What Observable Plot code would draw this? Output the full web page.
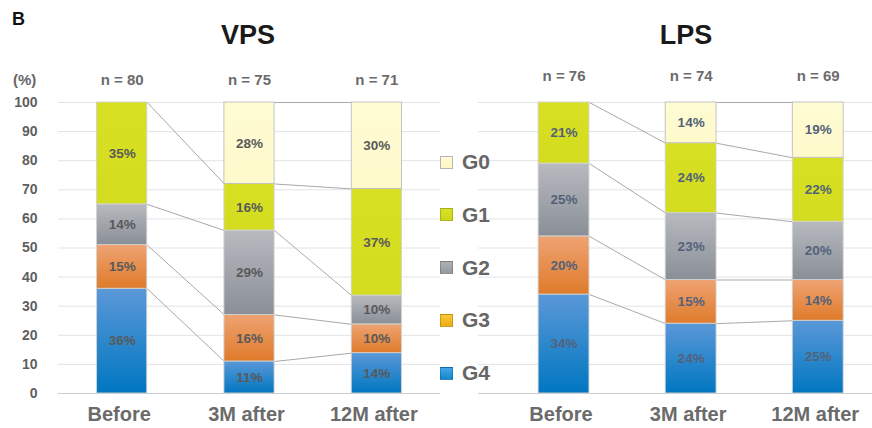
<!DOCTYPE html>
<html><head><meta charset="utf-8">
<script src="https://cdn.jsdelivr.net/npm/d3@7"></script>
<script src="https://cdn.jsdelivr.net/npm/@observablehq/plot@0.6"></script>
<style>
body{margin:0;background:#fff;font-family:"Liberation Sans",Arial,sans-serif;}
#wrap{position:relative;width:872px;height:428px;overflow:hidden;background:#fff;}
.t{position:absolute;white-space:nowrap;line-height:1;font-weight:bold;}
.leg{position:absolute;left:440px;display:flex;align-items:center;transform:translateY(-50%);}
.sw{width:13px;height:13px;box-sizing:border-box;border:1px solid rgba(0,0,0,0.18);margin-right:9px;}
.lt{font-size:21px;font-weight:bold;color:#666;line-height:normal;}
</style></head><body>
<svg width="0" height="0" style="position:absolute">
  <defs>
    <linearGradient id="gG4" x1="0" y1="0" x2="0" y2="1"><stop offset="0" stop-color="#5b98d8"/><stop offset="1" stop-color="#0077c1"/></linearGradient>
    <linearGradient id="gG3" x1="0" y1="0" x2="0" y2="1"><stop offset="0" stop-color="#eea373"/><stop offset="1" stop-color="#df7b2b"/></linearGradient>
    <linearGradient id="gG2" x1="0" y1="0" x2="0" y2="1"><stop offset="0" stop-color="#b7babf"/><stop offset="1" stop-color="#8a8f97"/></linearGradient>
    <linearGradient id="gG1" x1="0" y1="0" x2="0" y2="1"><stop offset="0" stop-color="#d7e022"/><stop offset="1" stop-color="#d3dc1f"/></linearGradient>
    <linearGradient id="gG0" x1="0" y1="0" x2="0" y2="1"><stop offset="0" stop-color="#fffbd3"/><stop offset="1" stop-color="#fffacb"/></linearGradient>
  </defs>
</svg>
<div id="wrap"></div>
<script>
// ---- data ----
const categories = ["Before", "3M after", "12M after"];
const grades = ["G4", "G3", "G2", "G1", "G0"]; // stack order, bottom to top
const legendGrades = ["G0", "G1", "G2", "G3", "G4"];
const yTicks = [0, 10, 20, 30, 40, 50, 60, 70, 80, 90, 100];

const vpsN = [80, 75, 71];
const vpsG4 = [36, 11, 14];
const vpsG3 = [15, 16, 10];
const vpsG2 = [14, 29, 10];
const vpsG1 = [35, 16, 37];
const vpsG0 = [0, 28, 30];

const lpsN = [76, 74, 69];
const lpsG4 = [34, 24, 25];
const lpsG3 = [20, 15, 14];
const lpsG2 = [25, 23, 20];
const lpsG1 = [21, 24, 22];
const lpsG0 = [0, 14, 19];

// ---- build tables ----
function buildRows(series) {
  const rows = [];
  categories.forEach((c, i) => {
    const total = grades.reduce((s, g) => s + series[g][i], 0);
    let cum = 0;
    grades.forEach(g => {
      const v = series[g][i];
      const y1 = cum / total * 100;
      cum += v;
      const y2 = cum / total * 100;
      rows.push({i, cat: c, grade: g, v, y1, y2});
    });
  });
  return rows;
}
function buildLinks(rows, hw) {
  const links = [];
  for (let i = 0; i < categories.length - 1; i++) {
    grades.forEach(g => {
      const a = rows.find(r => r.i === i && r.grade === g);
      const b = rows.find(r => r.i === i + 1 && r.grade === g);
      if (a.v > 0 && b.v > 0) links.push({x1: i + hw, y1: a.y2, x2: i + 1 - hw, y2: b.y2});
    });
  }
  return links;
}

function panel({series, n, hw, domain, width, marginLeft, marginRight, labelColor, showY, nDy}) {
  const rows = buildRows(series);
  const shown = rows.filter(r => r.v > 0);
  const links = buildLinks(rows, hw);
  const marks = [
    Plot.ruleY(yTicks.filter(d => d > 0), {stroke: "#e1e3e6", strokeWidth: 1}),
    Plot.ruleY([0], {stroke: "#c9cbce", strokeWidth: 1.2}),
    Plot.link(links, {x1: "x1", y1: "y1", x2: "x2", y2: "y2", stroke: "#a9a9a9", strokeWidth: 1}),
    Plot.rect(shown, {x1: d => d.i - hw, x2: d => d.i + hw, y1: "y1", y2: "y2",
      fill: d => "url(#g" + d.grade + ")", stroke: d => d.grade === "G0" ? "#bdbdbd" : "#d2d2d2", strokeWidth: 0.9}),
    Plot.text(shown, {x: "i", y: d => (d.y1 + d.y2) / 2, text: d => d.v + "%",
      fontSize: 13.5, fontWeight: "bold", fill: labelColor}),
    Plot.text(n, {x: (d, i) => i, y: () => 100, dy: nDy, text: d => "n = " + d,
      fontSize: 15, fontWeight: "bold", fill: "#6b6b6b"}),
    Plot.text(categories, {x: (d, i) => i, frameAnchor: "bottom", lineAnchor: "top", dy: 13, dx: -3,
      text: d => d, fontSize: 20, fontWeight: "bold", fill: "#6b6b6b"})
  ];
  if (showY) {
    marks.push(Plot.text(yTicks, {y: d => d, frameAnchor: "left", textAnchor: "end", dx: -21,
      text: d => String(d), fontSize: 14, fontWeight: "bold", fill: "#5f5f5f"}));
  }
  return Plot.plot({
    width, height: 428,
    marginLeft, marginRight, marginTop: 102, marginBottom: 35,
    x: {domain, axis: null},
    y: {domain: [0, 100], axis: null},
    color: {type: "identity"},
    style: {fontFamily: '"Liberation Sans", Arial, sans-serif', background: "transparent", overflow: "visible", maxWidth: "none"},
    marks
  });
}

const wrap = document.getElementById("wrap");

const left = panel({
  series: {G4: vpsG4, G3: vpsG3, G2: vpsG2, G1: vpsG1, G0: vpsG0},
  n: vpsN, hw: 0.197, domain: [-0.5, 2.5], width: 445, marginLeft: 58, marginRight: 5,
  labelColor: "#595959", showY: true, nDy: -22
});
left.style.position = "absolute"; left.style.left = "0px"; left.style.top = "0px";
wrap.appendChild(left);

const right = panel({
  series: {G4: lpsG4, G3: lpsG3, G2: lpsG2, G1: lpsG1, G0: lpsG0},
  n: lpsN, hw: 0.2, domain: [-0.673, 2.427], width: 427, marginLeft: 33, marginRight: 0,
  labelColor: "#53627a", showY: false, nDy: -26
});
right.style.position = "absolute"; right.style.left = "445px"; right.style.top = "0px";
wrap.appendChild(right);

// ---- titles ----
function addText(txt, x, y, size, color, center) {
  const d = document.createElement("div");
  d.className = "t";
  d.textContent = txt;
  d.style.left = x + "px"; d.style.top = y + "px";
  d.style.fontSize = size + "px"; d.style.color = color;
  if (center) d.style.transform = "translateX(-50%)";
  wrap.appendChild(d);
}
addText("B", 12, 10, 18, "#111", false);
addText("VPS", 248, 22, 27, "#1a1a1a", true);
addText("LPS", 686, 22, 27, "#1a1a1a", true);
addText("(%)", 13, 72, 15, "#666", false);

// ---- legend ----
const swatch = {
  G0: "linear-gradient(#fffbd3,#fff8c4)",
  G1: "linear-gradient(#d8e126,#ccd61c)",
  G2: "linear-gradient(#aeb1b7,#959aa1)",
  G3: "linear-gradient(#f9c83a,#efab12)",
  G4: "linear-gradient(#42a5e5,#1487d0)"
};
legendGrades.forEach((g, k) => {
  const item = document.createElement("div");
  item.className = "leg";
  item.style.top = (162 + k * 52.75) + "px";
  const s = document.createElement("div");
  s.className = "sw";
  s.style.background = swatch[g];
  if (g === "G0") s.style.borderColor = "#b5b5b5";
  const l = document.createElement("span");
  l.className = "lt";
  l.textContent = g;
  item.appendChild(s); item.appendChild(l);
  wrap.appendChild(item);
});
</script>
</body></html>
